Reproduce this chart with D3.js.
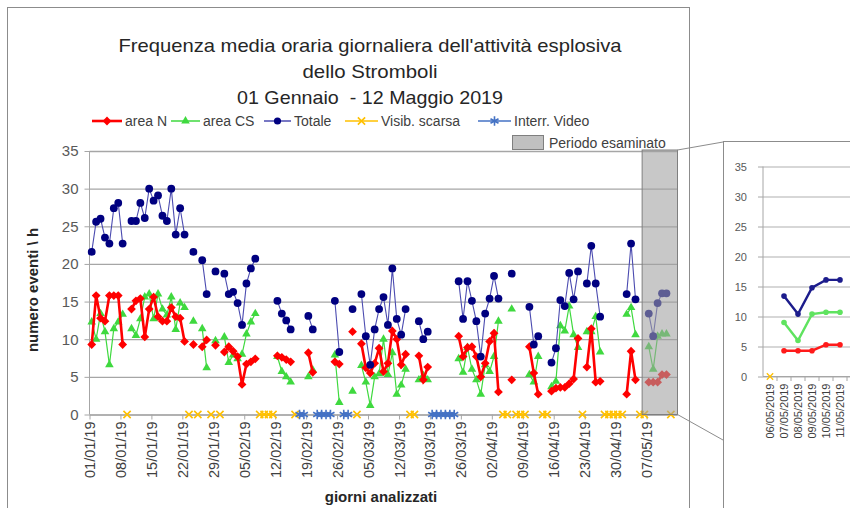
<!DOCTYPE html>
<html>
<head>
<meta charset="utf-8">
<script src="https://cdn.jsdelivr.net/npm/d3@7"></script>
<style>
body { margin: 0; background: #fff; }
svg { font-family: "Liberation Sans", Arial, sans-serif; }
.axis path, .axis line { stroke: #a6a6a6; }
.axis text { fill: #595959; }
</style>
</head>
<body>
<div class="chart"></div>
<script>
// giorni con dati (2019)
var dates = [
  "01/01","02/01","03/01","04/01","05/01","06/01","07/01","08/01",
  "10/01","11/01","12/01","13/01","14/01","15/01","16/01","17/01","18/01","19/01","20/01","21/01","22/01",
  "24/01","26/01","27/01","29/01",
  "31/01","01/02","02/02","03/02","04/02","05/02","06/02","07/02",
  "12/02","13/02","14/02","15/02",
  "19/02","20/02",
  "25/02","26/02",
  "01/03",
  "03/03","04/03","05/03","06/03","07/03","08/03","09/03","10/03","11/03","12/03","13/03",
  "16/03","17/03","18/03",
  "25/03","26/03","27/03","28/03","29/03","30/03","31/03","01/04","02/04","03/04",
  "06/04",
  "10/04","11/04","12/04",
  "15/04","16/04","17/04","18/04","19/04","20/04","21/04",
  "23/04","24/04","25/04","26/04",
  "02/05","03/05","04/05",
  "07/05","08/05","09/05","10/05","11/05"
];
var totale = [
  21.6,25.6,26.0,23.5,22.7,27.4,28.1,22.7,
  25.7,25.7,28.1,26.1,30.0,28.4,29.1,26.4,25.7,30.0,23.9,27.4,23.9,
  21.6,20.5,16.0,19.0,
  18.7,16.0,16.3,14.8,11.9,17.4,19.4,20.7,
  15.1,13.4,12.5,11.3,
  13.1,11.3,
  15.1,8.3,
  14.0,
  16.0,10.4,6.6,11.3,14.0,15.6,11.9,19.4,12.7,10.6,14.0,
  12.4,10.0,11.0,
  17.7,12.7,17.7,15.1,12.4,7.7,13.4,15.4,18.4,15.4,
  18.7,
  14.3,9.3,10.4,
  6.9,8.8,15.2,14.4,18.8,15.3,19.0,
  17.4,22.4,17.4,13.0,
  16.0,22.7,15.3,
  13.4,10.4,14.8,16.1,16.1
];
var areaCS = [
  12.3,10.0,13.4,11.0,6.6,11.4,12.3,13.3,
  11.4,10.5,12.7,15.6,16.0,12.7,16.0,14.0,13.2,15.6,11.3,14.8,14.2,
  12.4,11.4,6.2,9.8,
  10.3,6.9,7.9,7.4,8.0,10.7,12.3,13.4,
  7.7,5.7,5.0,4.3,
  5.0,5.9,
  7.9,1.6,
  3.1,
  6.5,4.3,1.2,5.0,5.4,10.0,5.3,8.2,2.7,3.9,6.0,
  4.6,5.2,4.6,
  7.4,5.6,8.9,6.0,4.6,2.7,6.6,5.7,7.7,12.4,
  14.0,
  5.3,4.3,7.7,
  3.7,4.4,11.8,11.1,14.4,10.6,8.9,
  11.0,11.0,13.0,8.3,
  13.3,14.2,10.6,
  9.0,6.0,10.4,10.7,10.7
];
var areaN = [
  9.3,15.8,12.8,12.4,15.8,15.8,15.8,9.3,
  14.0,15.1,15.4,10.3,14.0,15.6,13.0,12.4,12.4,14.2,13.0,12.8,9.7,
  9.3,9.0,9.9,9.2,
  8.3,9.0,8.4,7.7,4.0,6.7,7.0,7.4,
  7.8,7.6,7.3,7.0,
  8.2,5.6,
  7.0,6.7,
  11.0,
  9.4,6.2,5.5,6.8,8.8,5.7,6.8,11.1,10.0,6.6,8.0,
  7.8,4.6,6.3,
  10.4,7.7,8.9,9.0,7.7,5.0,6.8,9.7,10.8,3.0,
  4.6,
  9.0,5.5,2.7,
  3.1,3.5,3.6,3.6,4.1,4.7,10.1,
  6.3,11.4,4.3,4.4,
  2.7,8.4,4.6,
  4.3,4.3,4.3,5.3,5.3
];
var visibScarsa = ["09/01","23/01","25/01","28/01","30/01","08/02","09/02","10/02","11/02","16/02",
  "02/03","14/03","15/03","04/04","05/04","07/04","08/04","09/04","13/04","14/04","22/04",
  "27/04","28/04","29/04","30/04","01/05","05/05","06/05","12/05"];
var interrVideo = ["17/02","18/02","21/02","22/02","23/02","24/02","27/02","28/02",
  "19/03","20/03","21/03","22/03","23/03","24/03"];
var xTickLabels = ["01/01/19","08/01/19","15/01/19","22/01/19","29/01/19","05/02/19","12/02/19",
  "19/02/19","26/02/19","05/03/19","12/03/19","19/03/19","26/03/19","02/04/19","09/04/19",
  "16/04/19","23/04/19","30/04/19","07/05/19"];
var yTicks = [0, 5, 10, 15, 20, 25, 30, 35];

// dettaglio periodo esaminato
var insetDates = ["06/05/2019","07/05/2019","08/05/2019","09/05/2019","10/05/2019","11/05/2019"];
var insetTot = [null, 13.4, 10.4, 14.8, 16.1, 16.1];
var insetCS = [null, 9.0, 6.0, 10.4, 10.7, 10.7];
var insetN = [null, 4.3, 4.3, 4.3, 5.3, 5.3];
var insetVisib = ["06/05/2019"];

var colN = "#ff0000", colCS = "#3fd93f", colTot = "#000080",
    colVis = "#ffc000", colVid = "#4472c4";

var svg = d3.select(".chart").append("svg")
    .attr("width", 850)
    .attr("height", 508);

var parseDay = d3.timeParse("%d/%m/%Y");
function mid(s) { return d3.timeHour.offset(parseDay(s + "/2019"), 12); }

var x = d3.scaleTime()
    .domain([new Date(2019, 0, 1), new Date(2019, 4, 14)])
    .range([89.5, 677.5]);
var y = d3.scaleLinear().domain([0, 35]).range([414.5, 151]);

// bordo grafico
svg.append("rect")
    .attr("x", 7.5).attr("y", 7.5).attr("width", 682).attr("height", 520)
    .style("fill", "none").style("stroke", "#8c8c8c");

// titolo
var titles = [
  {t: "Frequenza media oraria giornaliera dell'attività esplosiva", y: 52, w: 503},
  {t: "dello Stromboli", y: 78, w: 135},
  {t: "01 Gennaio  - 12 Maggio 2019", y: 104, w: 266}
];
svg.selectAll(".title").data(titles).enter().append("text")
    .attr("class", "title")
    .attr("x", 370).attr("y", function (d) { return d.y; })
    .attr("text-anchor", "middle")
    .attr("textLength", function (d) { return d.w; })
    .attr("lengthAdjust", "spacingAndGlyphs")
    .style("font-size", "19px").style("fill", "#262626")
    .style("white-space", "pre")
    .text(function (d) { return d.t; });

// griglia + assi
svg.append("g")
    .attr("class", "axis grid")
    .attr("transform", "translate(89.5,0)")
    .call(d3.axisLeft(y).tickValues(yTicks).tickSize(-588).tickFormat(""))
    .call(function (g) { g.select(".domain").remove(); })
    .selectAll("line").style("stroke", "#a6a6a6").style("stroke-width", 1.3);

svg.append("g")
    .attr("class", "axis")
    .attr("transform", "translate(89.5,0)")
    .call(d3.axisLeft(y).tickValues(yTicks).tickSize(5).tickPadding(6))
    .call(function (g) { g.select(".domain").attr("d", "M0,151V414.5"); })
    .selectAll("text").style("font-size", "15px");

var parseTick = d3.timeParse("%d/%m/%y");
var xAxis = svg.append("g")
    .attr("class", "axis")
    .attr("transform", "translate(0,414.5)")
    .call(d3.axisBottom(x)
        .tickValues(xTickLabels.map(parseTick))
        .tickFormat(d3.timeFormat("%d/%m/%y"))
        .tickSize(5)
        .tickSizeOuter(0));
xAxis.selectAll("text")
    .attr("transform", "rotate(-90)")
    .attr("text-anchor", "end")
    .attr("x", -7).attr("y", 0).attr("dy", "0.35em")
    .style("font-size", "14.5px").style("fill", "#404040");

// etichette assi
svg.append("text")
    .attr("transform", "translate(38,290) rotate(-90)")
    .attr("text-anchor", "middle")
    .style("font-size", "15px").style("font-weight", "bold").style("fill", "#262626")
    .text("numero eventi \\ h");
svg.append("text")
    .attr("x", 381).attr("y", 502)
    .attr("text-anchor", "middle")
    .style("font-size", "15px").style("font-weight", "bold").style("fill", "#262626")
    .text("giorni analizzati");

// punti con interruzioni sui giorni mancanti
function toPoints(days, vals) {
    var pts = [];
    days.forEach(function (s, i) {
        var d = mid(s);
        if (i > 0 && (d - mid(days[i - 1])) / 864e5 > 1.5) pts.push(null);
        pts.push({date: d, value: vals ? vals[i] : 0});
    });
    return pts;
}
var line = d3.line()
    .defined(function (d) { return d !== null; })
    .x(function (d) { return x(d.date); })
    .y(function (d) { return y(d.value); });

var diamond = "M0,-4.4L4.4,0L0,4.4L-4.4,0Z";
var triangle = d3.symbol(d3.symbolTriangle, 32)();
var xMark = d3.symbol(d3.symbolX, 36)();
var star = d3.symbol(d3.symbolAsterisk, 60)();

function drawSeries(g, pts, color, width, path, fill, lineColor) {
    g.append("path").datum(pts)
        .attr("d", line)
        .style("fill", "none")
        .style("stroke", lineColor || color)
        .style("stroke-width", width);
    g.selectAll(".m").data(pts.filter(function (d) { return d; }))
        .enter().append("path")
        .attr("transform", function (d) { return "translate(" + x(d.date) + "," + y(d.value) + ")"; })
        .attr("d", path)
        .style("fill", fill ? color : "none")
        .style("stroke", color)
        .style("stroke-width", fill ? 0 : 1.6);
}

var plot = svg.append("g");
drawSeries(plot.append("g"), toPoints(visibScarsa), colVis, 1.5, xMark, false);
drawSeries(plot.append("g"), toPoints(interrVideo), colVid, 1.5, star, false);
drawSeries(plot.append("g"), toPoints(dates, areaCS), colCS, 1.2, triangle, true);
drawSeries(plot.append("g"), toPoints(dates, areaN), colN, 2.6, diamond, true);
var totG = plot.append("g");
totG.append("path").datum(toPoints(dates, totale))
    .attr("d", line)
    .style("fill", "none").style("stroke", "#4b4bb0").style("stroke-width", 1.1);
totG.selectAll("circle").data(toPoints(dates, totale).filter(function (d) { return d; }))
    .enter().append("circle")
    .attr("cx", function (d) { return x(d.date); })
    .attr("cy", function (d) { return y(d.value); })
    .attr("r", 3.9)
    .style("fill", colTot);

// periodo esaminato (sovrapposto)
var p0 = x(new Date(2019, 4, 6)), p1 = x(new Date(2019, 4, 14));
svg.append("rect")
    .attr("x", p0).attr("y", 150).attr("width", p1 - p0).attr("height", 414.5 - 150)
    .style("fill", "rgb(160,160,160)").style("fill-opacity", 0.58)
    .style("stroke", "#7f7f7f").style("stroke-width", 1);

// legenda
var legend = [
  {label: "area N", color: colN, x: 92, w: 30, kind: "n"},
  {label: "area CS", color: colCS, x: 171, w: 29, kind: "cs"},
  {label: "Totale", color: colTot, x: 264, w: 27, kind: "tot"},
  {label: "Visib. scarsa", color: colVis, x: 345, w: 33, kind: "vis"},
  {label: "Interr. Video", color: colVid, x: 478, w: 33, kind: "vid"}
];
var lg = svg.selectAll(".leg").data(legend).enter().append("g")
    .attr("transform", function (d) { return "translate(" + d.x + ",121)"; });
lg.append("line")
    .attr("x1", 0).attr("x2", function (d) { return d.w; })
    .style("stroke", function (d) { return d.kind === "tot" ? "#4b4bb0" : d.color; })
    .style("stroke-width", function (d) { return d.kind === "n" ? 2.6 : 1.5; });
lg.append("path")
    .attr("transform", function (d) { return "translate(" + d.w / 2 + ",0)"; })
    .attr("d", function (d) {
        return {n: diamond, cs: triangle, tot: d3.symbol(d3.symbolCircle, 40)(), vis: xMark, vid: star}[d.kind];
    })
    .style("fill", function (d) { return (d.kind === "vis" || d.kind === "vid") ? "none" : d.color; })
    .style("stroke", function (d) { return (d.kind === "vis" || d.kind === "vid") ? d.color : "none"; })
    .style("stroke-width", 1.6);
lg.append("text")
    .attr("x", function (d) { return d.w + 3; }).attr("y", 5)
    .style("font-size", "14px").style("fill", "#404040")
    .text(function (d) { return d.label; });

svg.append("rect")
    .attr("x", 512.5).attr("y", 135.5).attr("width", 31).attr("height", 14)
    .style("fill", "#c0c0c0").style("stroke", "#7f7f7f");
svg.append("text")
    .attr("x", 549).attr("y", 148)
    .style("font-size", "14px").style("fill", "#404040")
    .text("Periodo esaminato");

// connettori verso il dettaglio
svg.append("line").attr("x1", p1).attr("y1", 150).attr("x2", 723).attr("y2", 142)
    .style("stroke", "#8c8c8c");
svg.append("line").attr("x1", p1).attr("y1", 414.5).attr("x2", 723).attr("y2", 440)
    .style("stroke", "#8c8c8c");

// riquadro dettaglio
var inset = svg.append("g");
inset.append("rect")
    .attr("x", 723.5).attr("y", 141.5).attr("width", 200).attr("height", 400)
    .style("fill", "#fff").style("stroke", "#8c8c8c");

var xi = d3.scalePoint().domain(insetDates).range([770, 840]);
var yi = d3.scaleLinear().domain([0, 35]).range([376.5, 166.5]);

inset.append("g")
    .attr("transform", "translate(763,0)")
    .call(d3.axisLeft(yi).tickValues(yTicks).tickSize(-95).tickFormat(""))
    .call(function (g) { g.select(".domain").remove(); })
    .selectAll("line").style("stroke", "#b0b0b0").style("stroke-width", 1.2);
inset.append("g")
    .attr("class", "axis")
    .attr("transform", "translate(763,0)")
    .call(d3.axisLeft(yi).tickValues(yTicks).tickSize(5).tickPadding(11))
    .call(function (g) { g.select(".domain").attr("d", "M0,166.5V376.5"); })
    .selectAll("text").style("font-size", "11px");

var ixAxis = inset.append("g")
    .attr("class", "axis")
    .attr("transform", "translate(0,376.5)")
    .call(d3.axisBottom(xi).tickSize(0).tickPadding(0))
    .call(function (g) { g.select(".domain").attr("d", "M763,0H860"); });
ixAxis.selectAll("text")
    .attr("transform", "rotate(-90)")
    .attr("text-anchor", "end")
    .attr("x", -7).attr("y", 0).attr("dy", "0.35em")
    .style("font-size", "11px").style("fill", "#404040");
inset.selectAll(".itick").data(insetDates).enter().append("line")
    .attr("x1", function (d) { return xi(d) + 7; })
    .attr("x2", function (d) { return xi(d) + 7; })
    .attr("y1", 376.5).attr("y2", 381)
    .style("stroke", "#a6a6a6");

var iline = d3.line()
    .defined(function (d) { return d.v !== null; })
    .x(function (d) { return xi(d.k); })
    .y(function (d) { return yi(d.v); });
[[insetTot, "#1c1c8c"], [insetCS, "#5fe35f"], [insetN, "#ff1a1a"]].forEach(function (s) {
    var pts = insetDates.map(function (k, i) { return {k: k, v: s[0][i]}; });
    inset.append("path").datum(pts).attr("d", iline)
        .style("fill", "none").style("stroke", s[1]).style("stroke-width", 2.4);
    inset.selectAll(null).data(pts.filter(function (d) { return d.v !== null; }))
        .enter().append("circle")
        .attr("cx", function (d) { return xi(d.k); })
        .attr("cy", function (d) { return yi(d.v); })
        .attr("r", 2.8)
        .style("fill", s[1]);
});
inset.selectAll(".ivis").data(insetVisib).enter().append("path")
    .attr("transform", function (d) { return "translate(" + xi(d) + "," + yi(0) + ")"; })
    .attr("d", d3.symbol(d3.symbolX, 28)())
    .style("fill", "none").style("stroke", colVis).style("stroke-width", 1.3);
</script>
</body>
</html>
